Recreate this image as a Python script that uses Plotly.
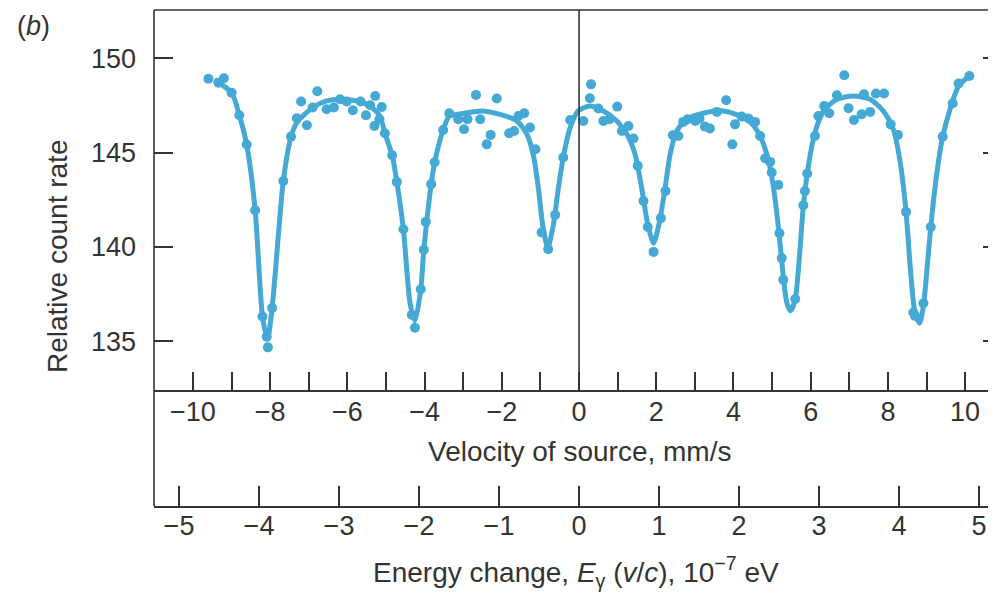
import plotly.graph_objects as go

# ---------------- data ----------------
velocity_pts = [
    -9.60, -9.34, -9.20, -9.00, -8.80, -8.61, -8.39, -8.20, -8.09, -8.06,
    -7.95, -7.66, -7.46, -7.31, -7.20, -7.05, -6.90, -6.78, -6.54, -6.35,
    -6.19, -6.02, -5.86, -5.66, -5.52, -5.41, -5.28, -5.11, -5.30, -5.17,
    -5.03, -4.84, -4.72, -4.55, -4.33, -4.25, -4.10, -4.02, -3.97, -3.83,
    -3.74, -3.52, -3.36,
    -3.13, -2.98, -2.89, -2.67, -2.56, -2.39, -2.29, -2.13, -1.81, -1.68,
    -1.57, -1.42, -1.27, -1.13, -0.97, -0.80, -0.62, -0.41, -0.23, 0.11,
    0.28, 0.31, 0.50, 0.63, 0.79, 0.99, 1.11, 1.28, 1.41, 1.52,
    1.67, 1.78, 1.93, 2.12, 2.24, 2.43, 2.57, 2.70, 2.81, 3.01,
    3.12, 3.26, 3.39, 3.57, 3.81, 3.97, 4.04, 4.21,
    4.39, 4.56, 4.69, 4.82, 4.95, 4.99, 5.16, 5.19, 5.25, 5.29,
    5.60, 5.81, 5.85, 5.91, 6.11, 6.20, 6.35, 6.48, 6.68, 6.87,
    6.98, 7.12, 7.32, 7.38, 7.54, 7.69, 7.90, 8.07, 8.26, 8.47,
    8.66, 8.70, 8.92, 9.11, 9.42, 9.68, 9.83, 10.11,
]
rate_pts = [
    148.92, 148.71, 148.94, 148.18, 146.98, 145.43, 141.95, 136.32, 135.24, 134.68,
    136.77, 143.50, 145.85, 146.82, 147.71, 146.45, 147.39, 148.25, 147.30, 147.39,
    147.83, 147.71, 147.25, 147.71, 146.98, 147.51, 148.00, 147.42, 146.41, 146.77,
    146.03, 144.86, 143.45, 140.94, 136.40, 135.72, 137.76, 139.85, 141.33, 143.33,
    144.49, 146.20, 147.09,
    146.77, 146.24, 146.77, 148.06, 146.77, 145.44, 145.94, 147.87, 146.03, 146.15,
    146.94, 147.09, 146.33, 145.18, 140.77, 139.88, 141.70, 144.74, 146.73, 146.68,
    147.88, 148.62, 147.34, 146.68, 146.77, 147.44, 146.15, 146.41, 145.75, 144.30,
    142.44, 141.06, 139.74, 141.53, 142.97, 145.92, 145.88, 146.63, 146.77, 146.68,
    146.81, 146.38, 146.28, 147.16, 147.78, 145.44, 146.50, 146.91,
    146.81, 146.63, 145.88, 144.70, 144.51, 143.95, 143.29, 140.73, 139.41, 138.26,
    137.24, 142.21, 142.97, 143.89, 145.88, 146.94, 147.47, 147.09, 148.04, 149.10,
    147.35, 146.73, 147.03, 148.09, 147.16, 148.13, 148.13, 146.50, 145.94, 141.86,
    136.53, 136.35, 137.02, 141.06, 145.85, 147.62, 148.66, 149.06,
]

# fitted curve
fit_velocity = [
    -9.45, -9.00, -8.80, -8.61, -8.39, -8.20, -8.07, -7.95, -7.66, -7.46,
    -7.31, -6.90, -6.54, -6.19, -5.76, -5.41, -5.16, -5.03, -4.84, -4.72,
    -4.55, -4.38, -4.25, -4.10, -4.02, -3.83, -3.74, -3.52, -3.36,
    -3.13, -2.52, -2.05, -1.61, -1.35, -1.18, -1.05, -0.94, -0.81, -0.67,
    -0.54, -0.41, -0.23, -0.02, 0.28, 0.63, 0.98, 1.24, 1.45, 1.62,
    1.77, 1.93, 2.08, 2.23, 2.36, 2.53, 2.79, 3.22, 3.74, 4.17,
    4.43, 4.69, 4.90, 5.03, 5.16, 5.28, 5.38, 5.48, 5.60, 5.71,
    5.81, 5.94, 6.11, 6.33, 6.68, 7.11, 7.54, 7.88, 8.14, 8.32,
    8.47, 8.59, 8.70, 8.82, 8.92, 9.02, 9.11, 9.27, 9.42, 9.61,
    9.83, 10.11,
]
fit_rate = [
    148.85, 148.18, 146.98, 145.43, 141.95, 136.32, 135.12, 136.77, 143.50, 145.85,
    146.59, 147.39, 147.74, 147.83, 147.74, 147.47, 146.94, 146.03, 144.86, 143.45,
    140.94, 137.06, 136.09, 137.76, 139.85, 143.33, 144.49, 146.20, 146.94,
    147.03, 147.21, 147.03, 146.68, 145.97, 144.83, 143.06, 141.12, 139.97, 141.12,
    143.06, 144.74, 146.33, 147.21, 147.47, 147.21, 146.68, 145.97, 144.92, 143.15,
    141.30, 140.20, 141.30, 143.15, 144.92, 146.15, 146.77, 147.09, 147.21, 146.94,
    146.63, 145.88, 144.65, 143.24, 141.12, 138.65, 137.06, 136.62, 137.24, 139.53,
    142.18, 144.30, 146.06, 147.21, 147.83, 148.00, 147.83, 147.21, 146.24, 144.47,
    141.86, 138.65, 136.53, 135.96, 136.88, 139.00, 141.06, 143.95, 145.85, 147.30,
    148.53, 149.06,
]

rate_ticks = [135, 140, 145, 150]
velocity_ticks = [-10, -8, -6, -4, -2, 0, 2, 4, 6, 8, 10]
velocity_minor = [-9, -7, -5, -3, -1, 1, 3, 5, 7, 9]
energy_ticks = [-5, -4, -3, -2, -1, 0, 1, 2, 3, 4, 5]


def lab(v):
    return str(v).replace("-", "\u2212")


# ---------------- styling ----------------
BLUE = "#45a9d5"
INK = "#333333"
FONT = "Liberation Sans, Arial, Helvetica, sans-serif"
TICK_SIZE = 27
TITLE_SIZE = 28
LW = 1.6

OFF = 8  # page body margin the figure is drawn at
W, H = 996 - OFF, 593 - OFF
ML, MR, MT, MB = 154 - OFF, 0, 10 - OFF, 87
plot_h = H - MT - MB
plot_w = W - ML - MR
vel_axis_px = 390 - OFF
y_dom0 = (H - MB - vel_axis_px) / plot_h


def py(p):  # reference pixel -> paper y
    return (H - MB - (p - OFF)) / plot_h


def px(p):  # reference pixel -> paper x
    return (p - OFF - ML) / plot_w


fig = go.Figure()
fig.add_trace(go.Scatter(
    x=fit_velocity, y=fit_rate, mode="lines",
    line=dict(color=BLUE, width=5, shape="spline", smoothing=0.7),
    hoverinfo="skip", showlegend=False))
fig.add_trace(go.Scatter(
    x=velocity_pts, y=rate_pts, mode="markers",
    marker=dict(color=BLUE, size=10, line=dict(width=0)),
    showlegend=False))
# carrier traces so the energy axis and the right-hand tick axis are drawn
fig.add_trace(go.Scatter(x=[0], y=[0.5], xaxis="x2", yaxis="y3", mode="markers",
                         marker=dict(opacity=0), hoverinfo="skip", showlegend=False))
fig.add_trace(go.Scatter(x=[0], y=[140], yaxis="y2", mode="markers",
                         marker=dict(opacity=0), hoverinfo="skip", showlegend=False))

tickfont = dict(family=FONT, size=TICK_SIZE, color=INK)

fig.update_layout(
    width=W, height=H,
    margin=dict(l=ML, r=MR, t=MT, b=MB, pad=0),
    paper_bgcolor="white", plot_bgcolor="white",
    font=dict(family=FONT, color=INK),
    xaxis=dict(
        domain=[0, 1], anchor="y", range=[-11.01, 10.80],
        tickmode="array", tickvals=velocity_ticks,
        ticktext=[lab(v) for v in velocity_ticks],
        ticks="inside", ticklen=18, tickwidth=LW, tickcolor=INK,
        minor=dict(tickmode="array", tickvals=velocity_minor, ticks="inside",
                   ticklen=18, tickwidth=LW, tickcolor=INK, showgrid=False),
        showline=True, linecolor=INK, linewidth=LW,
        showgrid=False, zeroline=False, tickfont=tickfont,
        ticklabelstandoff=-3,
    ),
    yaxis=dict(
        domain=[y_dom0, 1], anchor="x", range=[132.42, 152.56],
        tickmode="array", tickvals=rate_ticks,
        ticktext=[lab(v) for v in rate_ticks],
        ticks="inside", ticklen=19, tickwidth=LW, tickcolor=INK,
        showline=False, showgrid=False, zeroline=False, tickfont=tickfont,
        ticklabelstandoff=17,
    ),
    yaxis2=dict(
        overlaying="y", side="right", anchor="x", range=[132.42, 152.56],
        tickmode="array", tickvals=rate_ticks, showticklabels=False,
        ticks="inside", ticklen=13, tickwidth=LW, tickcolor=INK,
        showline=False, showgrid=False, zeroline=False,
    ),
    xaxis2=dict(
        domain=[0, 1], anchor="y3", range=[-5.3125, 5.2125],
        tickmode="array", tickvals=energy_ticks,
        ticktext=[lab(v) for v in energy_ticks],
        ticks="inside", ticklen=20, tickwidth=LW, tickcolor=INK,
        showline=True, linecolor=INK, linewidth=LW,
        showgrid=False, zeroline=False, tickfont=tickfont,
        ticklabelstandoff=-5,
    ),
    yaxis3=dict(
        domain=[0, y_dom0 - 0.001], anchor="x2", range=[0, 1], visible=False,
    ),
    shapes=[
        # left frame line, full height
        dict(type="line", xref="paper", yref="paper", x0=0, x1=0, y0=0, y1=1,
             line=dict(color=INK, width=LW)),
        # top frame line
        dict(type="line", xref="paper", yref="paper", x0=0, x1=1, y0=1, y1=1,
             line=dict(color=INK, width=LW)),
        # zero-velocity line
        dict(type="line", xref="x", yref="y domain", x0=0, x1=0, y0=0, y1=1,
             line=dict(color=INK, width=LW)),
    ],
    annotations=[
        dict(text="(<i>b</i>)", xref="paper", yref="paper", x=px(33), y=py(OFF + 1),
             showarrow=False, xanchor="center", yanchor="top",
             font=dict(family=FONT, size=27, color=INK)),
        dict(text="Relative count rate", xref="paper", yref="paper",
             x=px(58), y=py(257), textangle=-90, showarrow=False,
             xanchor="center", yanchor="middle",
             font=dict(family=FONT, size=TITLE_SIZE, color=INK)),
        dict(text="Velocity of source, mm/s", xref="paper", yref="paper",
             x=px(579), y=py(451), showarrow=False,
             xanchor="center", yanchor="middle",
             font=dict(family=FONT, size=TITLE_SIZE, color=INK)),
        dict(text="Energy change, <i>E</i><sub>\u03b3</sub> (<i>v</i>/<i>c</i>), 10<sup>\u22127</sup> eV",
             xref="paper", yref="paper",
             x=px(576), y=py(572), showarrow=False,
             xanchor="center", yanchor="middle",
             font=dict(family=FONT, size=TITLE_SIZE, color=INK)),
    ],
)

fig.write_html("out.html")
